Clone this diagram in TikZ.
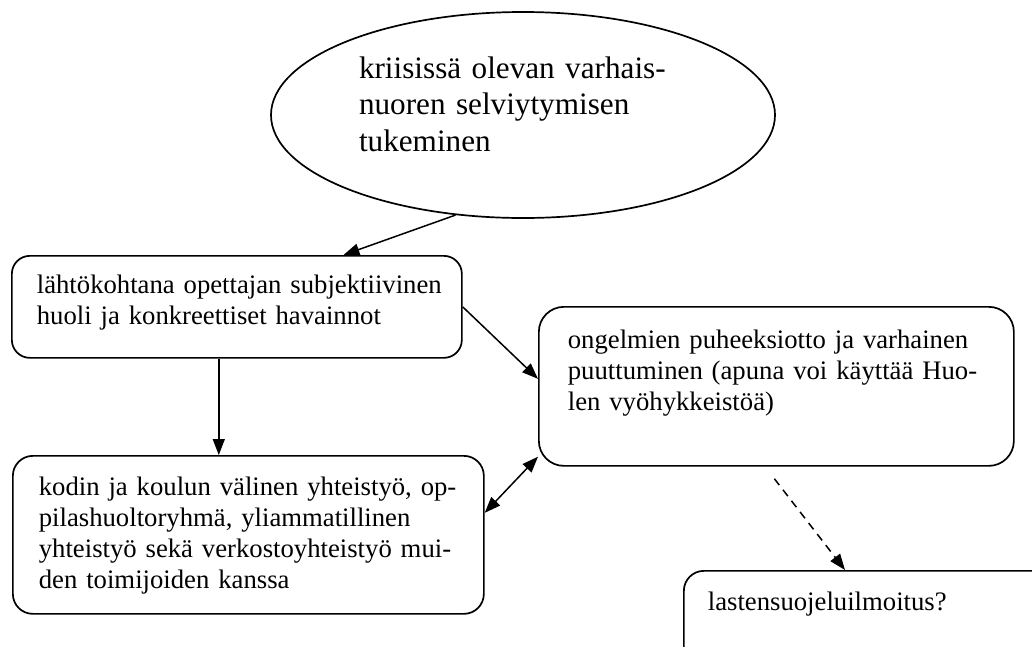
\documentclass[tikz,border=0pt]{standalone}
\usepackage{fontspec}
\setmainfont{Liberation Serif}
\usetikzlibrary{shapes.geometric,arrows.meta,calc}
\begin{document}
\begin{tikzpicture}[x=1pt,y=-1pt,
  box/.style={draw, line width=1.7pt, rectangle, rounded corners=#1, anchor=north west,
    inner ysep=0pt, align=left, font=\fontsize{26.7pt}{31pt}\selectfont},
  box/.default=20pt,
  conn/.style={line width=1.5pt, -{Triangle[length=16pt,width=12pt]}},
  dconn/.style={line width=1.5pt, {Triangle[length=16pt,width=12pt]}-{Triangle[length=16pt,width=12pt]}},
]
\useasboundingbox (0,0) rectangle (1032,646);

\node[draw, line width=1.7pt, ellipse, minimum width=504pt, minimum height=206pt,
  inner sep=0pt, text width=328pt, align=left, text height=30pt, text depth=104pt,
  font=\fontsize{31.2pt}{36.7pt}\selectfont] (ell) at (523,115)
  {\mbox{kriisissä olevan varhais-}\\\mbox{nuoren selviytymisen}\\\mbox{tukeminen}};

\node[box=18pt, inner xsep=25pt, text width=400pt, text height=38pt, text depth=64pt] (b1) at (11,255)
  {\mbox{lähtökohtana opettajan subjektiivinen}\\\mbox{huoli ja konkreettiset havainnot}};

\node[box=20pt, inner xsep=26pt, text width=419pt, text height=40pt, text depth=118pt] (b2) at (12,455)
  {\mbox{kodin ja koulun välinen yhteistyö, op-}\\\mbox{pilashuoltoryhmä, yliammatillinen}\\\mbox{yhteistyö sekä verkostoyhteistyö mui-}\\\mbox{den toimijoiden kanssa}};

\node[box=25pt, inner xsep=29pt, text width=417pt, text height=42pt, text depth=117pt] (b3) at (538,306)
  {\mbox{ongelmien puheeksiotto ja varhainen}\\\mbox{puuttuminen (apuna voi käyttää Huo-}\\\mbox{len vyöhykkeistöä)}};

\node[box=20pt, inner xsep=24pt, text width=329pt, text height=40pt, text depth=80pt] (b4) at (683,570)
  {\mbox{lastensuojeluilmoitus?}};

\draw[conn] (ell.236) -- ($(b1.north west)!0.736!(b1.north east)$);
\draw[conn] (b1.east) -- ($(b3.west)+(0,-7.5)$);
\coordinate (b1s) at ($(b1.south west)!0.46!(b1.south east)$);
\draw[conn] (b1s) -- (b1s |- b2.north);
\draw[dconn] ($(b2.east)+(0,-22)$) -- ($(b3.south west)+(0,-10)$);
\coordinate (d0) at ($(b3.south)+(-2,12)$);
\draw[conn, dash pattern=on 8pt off 6pt] (d0) -- ($(b4.north west)+(162,0)$);
\end{tikzpicture}
\end{document}
